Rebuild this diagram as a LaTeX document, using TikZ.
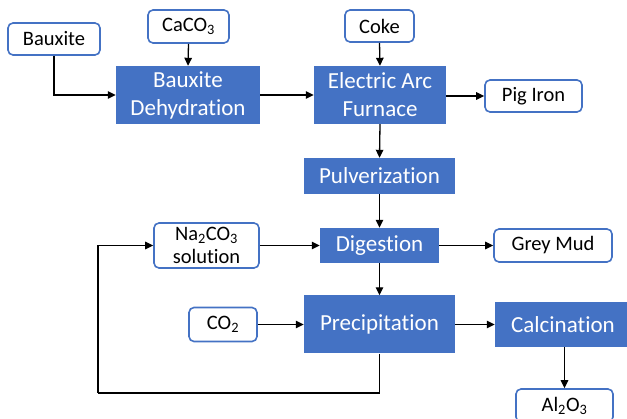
\documentclass[tikz,border=0pt]{standalone}
\usepackage{fontspec}
\setmainfont{Carlito}[Ligatures={NoCommon}]
\usetikzlibrary{arrows.meta}
\definecolor{ofblue}{HTML}{4472C4}
\begin{document}
\begin{tikzpicture}[x=1pt,y=-1pt,
  wbox/.style={draw=ofblue,line width=1.6pt,rounded corners=5pt,fill=white,inner sep=0pt,align=center,
    font=\fontsize{20.5}{23.5}\selectfont},
  bbox/.style={fill=ofblue,text=white,inner sep=0pt,align=center,
    font=\fontsize{23}{28}\selectfont},
  arr/.style={line width=1.3pt,-{Triangle[length=8pt,width=7.5pt]}},
  ln/.style={line width=1.3pt}]
\useasboundingbox (0,0) rectangle (627,419);
\clip (0,0) rectangle (627,419);
\node[wbox,minimum width=92pt,minimum height=32pt] (bauxite) at (54,39) {Bauxite};
\node[wbox,minimum width=81pt,minimum height=33pt] (caco3) at (188.5,26.5) {CaCO\textsubscript{3}};
\node[bbox,minimum width=144pt,minimum height=58pt] (dehyd) at (188,95) {Bauxite\\Dehydration};
\node[bbox,minimum width=132pt,minimum height=58pt] (eaf) at (380,95) {Electric Arc\\Furnace};
\node[wbox,minimum width=69pt,minimum height=32pt] (coke) at (379.5,26) {Coke};
\node[wbox,minimum width=97pt,minimum height=32pt] (pig) at (533.5,96) {Pig Iron};
\node[bbox,minimum width=151pt,minimum height=36pt] (pulv) at (379.5,176) {Pulverization};
\node[bbox,minimum width=119pt,minimum height=35pt] (dig) at (379.5,245.5) {Digestion};
\node[wbox,minimum width=118pt,minimum height=33pt] (grey) at (553,245.5) {Grey Mud};
\node[wbox,minimum width=105pt,minimum height=45pt] (na) at (206.5,245.5) {Na\textsubscript{2}CO\textsubscript{3}\\solution};
\node[bbox,minimum width=151pt,minimum height=58pt] (prec) at (379.5,324.5) {Precipitation};
\node[wbox,minimum width=68pt,minimum height=34pt] (co2) at (223,324.5) {CO\textsubscript{2}};
\node[bbox,minimum width=136pt,minimum height=45pt] (calc) at (563,324.5) {Calcination};
\node[wbox,minimum width=97pt,minimum height=33pt] (al) at (564.5,405.5) {Al\textsubscript{2}O\textsubscript{3}};
\coordinate (loopL) at (98,393);
\draw[arr] (bauxite.south) |- (dehyd.west);
\draw[arr] (caco3.south) -- (dehyd.north);
\draw[arr] (dehyd.east) -- (eaf.west);
\draw[arr] (coke.south) -- (eaf.north);
\draw[arr] (eaf.east |- pig.west) -- (pig.west);
\draw[arr] (eaf.south) -- (pulv.north);
\draw[arr] (pulv.south) -- (dig.north);
\draw[arr] (na.east) -- (dig.west);
\draw[arr] (dig.east) -- (grey.west);
\draw[arr] (dig.south) -- (prec.north);
\draw[arr] (co2.east) -- (prec.west);
\draw[arr] (prec.east) -- (calc.west);
\draw[arr] (calc.south -| al.north) -- (al.north);
\draw[ln] (prec.south) |- (loopL);
\draw[arr] (loopL) |- (na.west);
\end{tikzpicture}
\end{document}
